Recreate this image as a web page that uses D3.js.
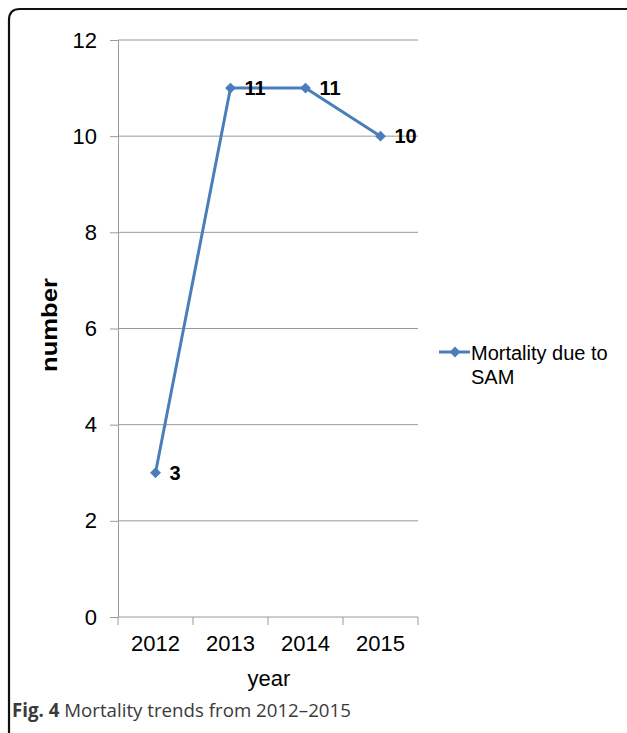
<!DOCTYPE html>
<html>
<head>
<meta charset="utf-8">
<script src="https://cdn.jsdelivr.net/npm/d3@7"></script>
<style>
  html, body { margin: 0; padding: 0; background: #fff; }
  svg { display: block; }
</style>
</head>
<body>
<svg id="chart" width="627" height="733"></svg>
<script>
// Mortality due to SAM, per year
const years = ["2012", "2013", "2014", "2015"];
const deaths = [3, 11, 11, 10];
const yTicks = [0, 2, 4, 6, 8, 10, 12];
const seriesName = ["Mortality due to", "SAM"];

const svg = d3.select("#chart");
const font = "'Liberation Sans', Arial, Helvetica, sans-serif";
const blue = "#4a7ebb";
const grid = "#9a9a9a";

const plot = { left: 118, right: 418, top: 40, bottom: 617 };

const x = d3.scaleBand().domain(years).range([plot.left, plot.right]).padding(0);
const y = d3.scaleLinear().domain([0, 12]).range([plot.bottom, plot.top]);

// outer frame with rounded top-left corner
svg.append("path")
  .attr("d", "M9,733 L9,20 Q9,9 20,9 L627,9")
  .attr("fill", "none")
  .attr("stroke", "#111")
  .attr("stroke-width", 2.2);

// horizontal grid lines
svg.append("g")
  .selectAll("line")
  .data(yTicks.filter(d => d !== 0))
  .join("line")
  .attr("x1", plot.left).attr("x2", plot.right)
  .attr("y1", d => y(d)).attr("y2", d => y(d))
  .attr("stroke", grid).attr("stroke-width", 1);

// y axis
const yAxis = svg.append("g")
  .attr("transform", `translate(${plot.left},0)`)
  .call(d3.axisLeft(y).tickValues(yTicks).tickSize(8).tickPadding(13).tickFormat(d3.format("d")));
yAxis.select(".domain").attr("stroke", grid);
yAxis.selectAll(".tick line").attr("stroke", grid);
yAxis.selectAll(".tick text")
  .attr("font-family", font).attr("font-size", 22).attr("fill", "#000");

// x axis with ticks at band boundaries
const xAxis = svg.append("g")
  .attr("transform", `translate(0,${plot.bottom})`)
  .call(d3.axisBottom(x).tickSize(0).tickPadding(18));
xAxis.select(".domain").attr("stroke", grid).attr("d", `M${plot.left},0H${plot.right}`);
xAxis.selectAll(".tick text")
  .attr("font-family", font).attr("font-size", 22).attr("fill", "#000");
xAxis.append("g")
  .selectAll("line")
  .data(years.concat(["end"]))
  .join("line")
  .attr("x1", (d, i) => plot.left + i * x.bandwidth())
  .attr("x2", (d, i) => plot.left + i * x.bandwidth())
  .attr("y1", 0).attr("y2", 8)
  .attr("stroke", grid);

// axis titles
svg.append("text")
  .attr("x", 269).attr("y", 686)
  .attr("text-anchor", "middle")
  .attr("font-family", font).attr("font-size", 22)
  .text("year");

svg.append("text")
  .attr("transform", "translate(57,325) rotate(-90)")
  .attr("text-anchor", "middle")
  .attr("font-family", font).attr("font-size", 22).attr("font-weight", "bold")
  .attr("textLength", 94).attr("lengthAdjust", "spacingAndGlyphs")
  .text("number");

// series line
const cx = (d, i) => x(years[i]) + x.bandwidth() / 2;
const line = d3.line().x((d, i) => cx(d, i)).y(d => y(d));
svg.append("path")
  .datum(deaths)
  .attr("d", line)
  .attr("fill", "none")
  .attr("stroke", blue)
  .attr("stroke-width", 3)
  .attr("stroke-linejoin", "round");

// diamond markers
const diamond = d3.symbol().type(d3.symbolDiamond2).size(75);
svg.append("g")
  .selectAll("path")
  .data(deaths)
  .join("path")
  .attr("transform", (d, i) => `translate(${cx(d, i)},${y(d)})`)
  .attr("d", diamond)
  .attr("fill", blue);

// value labels
svg.append("g")
  .selectAll("text")
  .data(deaths)
  .join("text")
  .attr("x", (d, i) => cx(d, i) + 14)
  .attr("y", d => y(d) + 7)
  .attr("font-family", font).attr("font-size", 20).attr("font-weight", "bold")
  .text(d => d);

// legend
const lg = svg.append("g").attr("transform", "translate(439,352)");
lg.append("line").attr("x1", 0).attr("x2", 31).attr("y1", 0).attr("y2", 0)
  .attr("stroke", blue).attr("stroke-width", 3);
lg.append("path").attr("transform", "translate(16,0)").attr("d", diamond).attr("fill", blue);
lg.append("text")
  .attr("x", 32).attr("y", 7.5)
  .attr("font-family", font).attr("font-size", 20)
  .selectAll("tspan")
  .data(seriesName)
  .join("tspan")
  .attr("x", 32)
  .attr("dy", (d, i) => i === 0 ? 0 : 24)
  .text(d => d);

// caption
const cap = svg.append("text")
  .attr("x", 12).attr("y", 717)
  .attr("font-family", "'Open Sans', 'Noto Sans', sans-serif")
  .attr("font-size", 18.7).attr("fill", "#3a3a3a");
cap.append("tspan").attr("font-weight", "bold").text("Fig. 4");
cap.append("tspan").text(" Mortality trends from 2012\u20132015");
</script>
</body>
</html>
